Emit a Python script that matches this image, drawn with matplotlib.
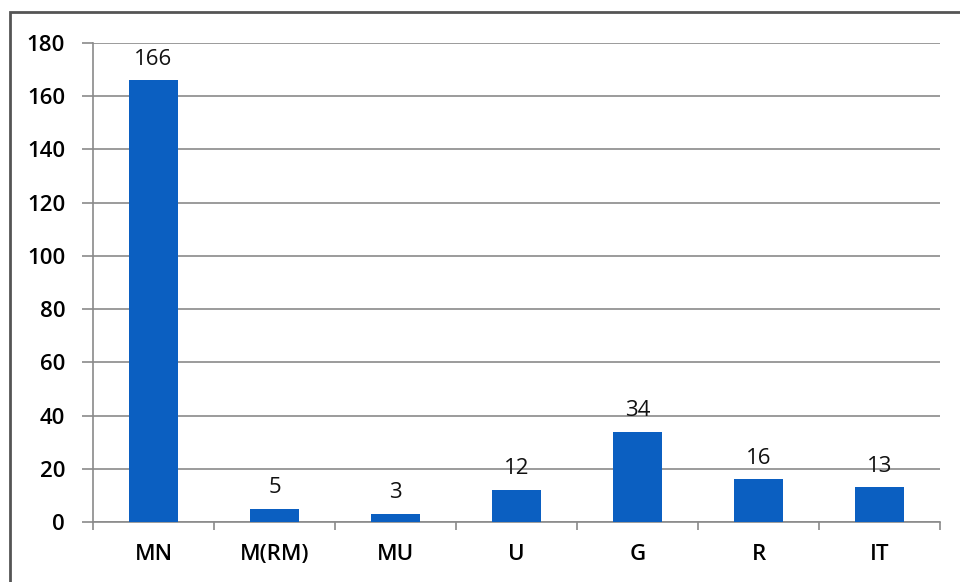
import numpy as np
import matplotlib
matplotlib.use("Agg")
import matplotlib.pyplot as plt
from matplotlib.patches import Rectangle

categories = ["MN", "M(RM)", "MU", "U", "G", "R", "IT"]
counts = [166, 5, 3, 12, 34, 16, 13]
y_ticks = [0, 20, 40, 60, 80, 100, 120, 140, 160, 180]

plt.rcParams["font.family"] = ["Open Sans", "DejaVu Sans"]

fig = plt.figure(figsize=(9.6, 5.82), dpi=100)
ax = fig.add_axes([0.0969, 0.1031, 0.8823, 0.8230])

x = np.arange(len(categories))
bars = ax.bar(x, counts, width=0.4, color="#0b5fc1", zorder=3)

for xi, v in zip(x, counts):
    ax.text(xi, v + 4, str(v), ha="center", va="bottom", fontsize=16, color="#111111")

ax.set_xlim(-0.5, len(categories) - 0.5)
ax.set_ylim(0, 180)
ax.set_yticks(y_ticks)
ax.set_yticklabels([str(t) for t in y_ticks], fontsize=16, fontweight="semibold")
ax.yaxis.grid(True, color="#8a8a8a", linewidth=1.2, zorder=0)

# category labels between boundary ticks
ax.set_xticks(x)
ax.set_xticklabels(categories, fontsize=16, fontweight="semibold")
ax.tick_params(axis="x", length=0, pad=16)
ax.set_xticks(np.arange(len(categories) + 1) - 0.5, minor=True)
ax.tick_params(axis="x", which="minor", length=6, color="#8a8a8a", width=1.2)
ax.tick_params(axis="y", length=8, color="#8a8a8a", width=1.2, pad=12)

for side in ["top", "right"]:
    ax.spines[side].set_visible(False)
ax.spines["left"].set_color("#8a8a8a")
ax.spines["left"].set_linewidth(1.2)
ax.spines["bottom"].set_color("#8a8a8a")
ax.spines["bottom"].set_linewidth(1.2)

# outer chart frame
fig.patches.append(Rectangle((10 / 960, -0.1), 1.2, 1 - 12 / 582 + 0.1,
                             transform=fig.transFigure, fill=False,
                             edgecolor="#555555", linewidth=2))

fig.savefig("out.png", dpi=100)
